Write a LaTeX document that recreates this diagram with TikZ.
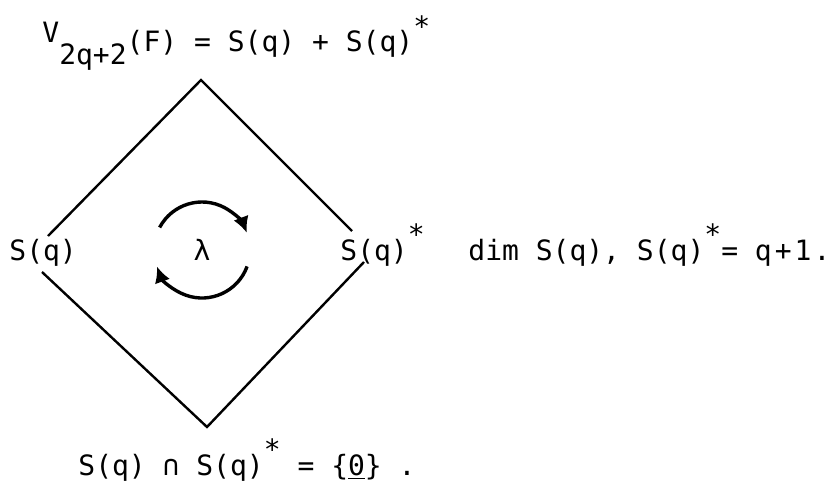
\documentclass[tikz,border=0pt]{standalone}
\usepackage{fontspec}
\newfontfamily\twfont{DejaVu Sans Mono}
\usetikzlibrary{arrows.meta}
\tikzset{
  side/.style={line width=1.2pt, draw=black},
  rot/.style={-{Latex[length=8pt,width=8pt]}, line width=1.7pt, draw=black},
  lab/.style={font=\twfont\fontsize{14}{16}\selectfont, inner sep=0pt, anchor=base west}
}
\newcommand{\up}[1]{\raisebox{8pt}{#1}}

\begin{document}
\begin{tikzpicture}[x=0.5pt, y=0.5pt]
  \useasboundingbox (0,0) rectangle (837,-482);
  % texts
  \node[lab] (top) at (42,-52) {\raisebox{5pt}{V}\raisebox{-6pt}{2q+2}(F) = S(q) + S(q)\up{*}};
  \node[lab] (sl) at (9,-260) {S(q)};
  \node[lab] (sr) at (340,-260) {S(q)\up{*}};
  \node[lab] (dim) at (468,-260) {dim S(q), S(q)\up{*}= q\kern1.5pt+\kern1.5pt1\kern1pt.};
  \node[lab] (cap) at (78,-475) {S(q) ∩ S(q)\up{*} = \{\underline{0}\} .};
  \node[lab, anchor=center] (lam) at (202,-250) {λ};
  % diamond
  \coordinate (n) at (201,-80);
  \coordinate (s) at (207,-427);
  \coordinate (ul) at (48,-236);
  \coordinate (ll) at (42,-272);
  \coordinate (ur) at (352,-231);
  \coordinate (lr) at (364,-262);
  \draw[side] (ul) -- (n) -- (ur);
  \draw[side] (ll) -- (s) -- (lr);
  % lambda arrows
  \draw[rot] ([shift={(152:48)}]lam.center) arc[start angle=152, end angle=21, radius=48];
  \draw[rot] ([shift={(-20:48)}]lam.center) arc[start angle=-20, end angle=-160, radius=48];
\end{tikzpicture}
\end{document}
